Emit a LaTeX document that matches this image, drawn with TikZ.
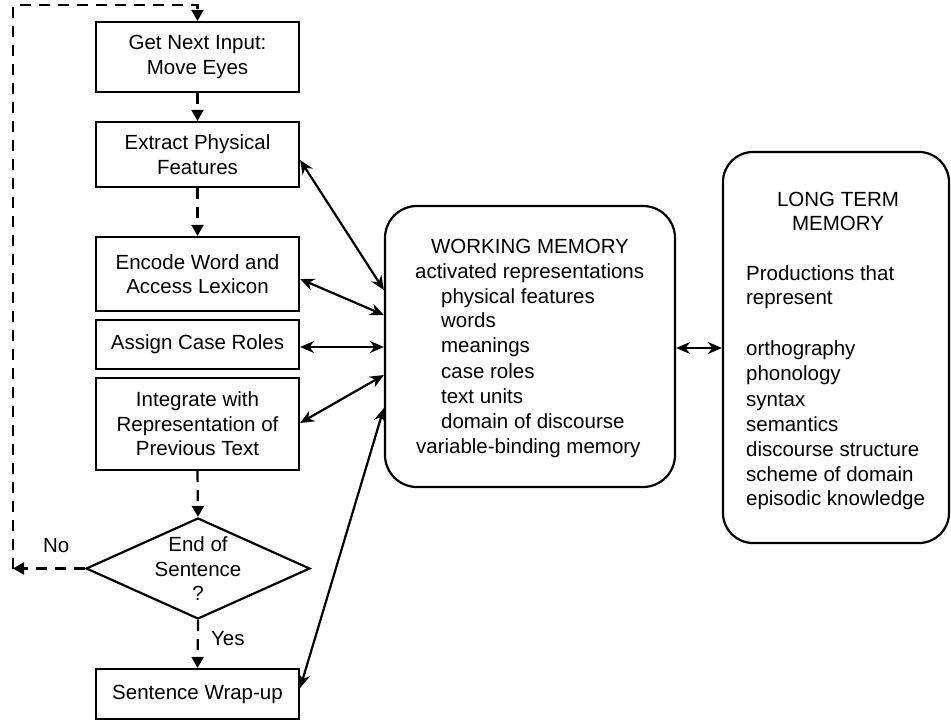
\documentclass[tikz,border=0pt]{standalone}
\usepackage{fontspec}
\setmainfont{Liberation Sans}
\usetikzlibrary{shapes.geometric,arrows.meta}

\begin{document}
\begin{tikzpicture}[x=1pt,y=-1pt,line width=2.2pt,
  every node/.style={font=\fontsize{20.5}{24.5}\selectfont},
  stepbox/.style={draw,minimum width=203pt,align=center,inner sep=0pt},
  membox/.style={draw,inner sep=0pt},
  flow/.style={dash pattern=on 11pt off 8pt,-{Triangle[length=11pt,width=12pt]}},
  link/.style={{Stealth[length=14pt,width=12pt]}-{Stealth[length=14pt,width=12pt]}},
  line/.style={anchor=base west,inner sep=0pt}]
\useasboundingbox (0,0) rectangle (951,726);

% processing steps
\node[stepbox,minimum height=70pt] (input) at (197.5,57) {Get Next Input:\\Move Eyes};
\node[stepbox,minimum height=65pt] (extract) at (197.5,154.5) {Extract Physical\\Features};
\node[stepbox,minimum height=74pt] (encode) at (197.5,274) {Encode Word and\\Access Lexicon};
\node[stepbox,minimum height=49pt] (assign) at (197.5,344.5) {Assign Case Roles};
\node[stepbox,minimum height=92pt] (integrate) at (197.5,424) {Integrate with\\Representation of\\Previous Text};
\node[draw,diamond,minimum width=224pt,minimum height=101pt,inner sep=0pt] (endq) at (198,568.5) {};
\node[align=center,inner sep=0pt] (endqtext) at (198,569) {End of\\Sentence\\?};
\node[stepbox,minimum height=50pt] (wrap) at (197.5,694) {Sentence Wrap-up};

% memories
\node[membox,rounded corners=32pt,minimum width=290pt,minimum height=281pt] (wm) at (530,346.5) {};
\node[membox,rounded corners=30pt,minimum width=226pt,minimum height=391pt] (ltm) at (836,347.5) {};

\foreach \t/\x/\y [count=\i] in {WORKING MEMORY/430/253, activated representations/414/278,
    physical features/440/303, words/440/327, meanings/440/352, case roles/440/378,
    text units/440/403, domain of discourse/440/428, variable-binding memory/415/453}
  \node[line] (wm\i) at (\x,\y) {\t};

\node[anchor=base,inner sep=0pt] (ltmtitle1) at (838,206) {LONG TERM};
\node[anchor=base,inner sep=0pt] (ltmtitle2) at (838,230) {MEMORY};
\foreach \t/\y [count=\i] in {Productions that/280, represent/304, orthography/355,
    phonology/380, syntax/406, semantics/431, discourse structure/456,
    scheme of domain/481, episodic knowledge/505}
  \node[line] (ltm\i) at (745,\y) {\t};

% control flow
\draw[flow] (input.south) -- (extract.north);
\draw[flow] (extract.south) -- (encode.north);
\draw[flow] (integrate.south) -- (endq.north);
\draw[flow] (endq.south) -- (wrap.north);
\coordinate (back) at (13,568.5);
\coordinate (top) at (197.5,5);
\draw[flow] (endq.west) -- (back);
\draw[flow] (back) |- (top) -- (input.north);
\node[line] (no) at (42,552) {No};
\node[line] (yes) at (210,645) {Yes};

% exchanges with working memory
\draw[link] ([yshift=-5.5pt]extract.east) -- ([yshift=56.5pt]wm.west);
\draw[link] ([yshift=-5pt]encode.east) -- ([yshift=31.5pt]wm.west);
\draw[link] ([yshift=-2.5pt]assign.east) -- ([yshift=-0.5pt]wm.west);
\draw[link] ([yshift=1pt]integrate.east) -- ([yshift=-28.5pt]wm.west);
\draw[link] ([yshift=6pt]wrap.east) -- ([yshift=-61.5pt]wm.west);
\draw[link] ([yshift=-1.5pt]wm.east) -- ([yshift=-1.5pt]wm.east -| ltm.west);
\end{tikzpicture}
\end{document}
